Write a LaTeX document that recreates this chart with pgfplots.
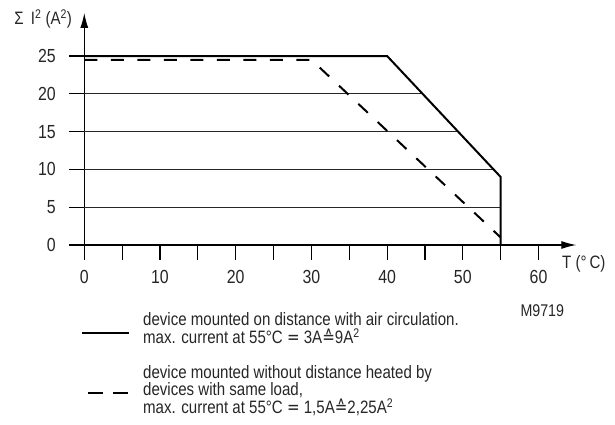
\documentclass[border=0pt]{standalone}
\usepackage{fontspec}
\setmainfont{Liberation Sans}[FakeStretch=0.84]
\newfontfamily\dejavu{DejaVu Sans}[FakeStretch=0.84]
\usepackage{pgfplots}
\pgfplotsset{compat=1.18}
\usetikzlibrary{arrows.meta}
\begin{document}
\begin{tikzpicture}
\begin{axis}[
  at={(0,0)}, anchor=origin,
  scale only axis, width=507.2bp, height=247.2bp,
  xmin=-2, xmax=65, ymin=-2, ymax=30.7,
  axis lines=middle,
  axis line style={line width=1.2bp, -{Latex[length=15bp,width=8bp]}},
  xtick={0,10,...,60}, minor xtick={5,15,...,55},
  ytick={0,5,...,25},
  tick align=outside,
  major tick length=15bp, minor tick length=15bp,
  tick style={line width=1.1bp, black},
  hide obscured x ticks=false, hide obscured y ticks=false,
  clip=false,
  tick label style={font=\fontsize{19}{22}\selectfont, text=black!85},
  xticklabel style={yshift=-7bp},
  yticklabel style={xshift=-10bp},
  /pgf/number format/assume math mode=true,
  xlabel={T (°\,C)},
  ylabel={Σ\, I\textsuperscript{2} (A\textsuperscript{2})},
  xlabel style={at={(axis description cs:0.9716,-0.0157)}, anchor=west, font=\fontsize{18}{21}\selectfont, inner sep=0pt, text=black!85},
  ylabel style={at={(axis description cs:0.006,0.9755)}, anchor=east, rotate=0, font=\fontsize{18}{21}\selectfont, inner sep=0pt, text=black!85},
]
% grid lines (clipped by the solid limit curve)
\addplot[black!85, line width=0.9bp, forget plot] coordinates {(0,5) (55,5)};
\addplot[black!85, line width=0.9bp, forget plot] coordinates {(0,10) (54.0625,10)};
\addplot[black!85, line width=0.9bp, forget plot] coordinates {(0,15) (49.375,15)};
\addplot[black!85, line width=0.9bp, forget plot] coordinates {(0,20) (44.6875,20)};
% solid limit curve
\addplot[black, line width=2bp, line join=miter] coordinates {(0,25) (40,25) (55,9) (55,0)};
% dashed limit curve
\addplot[black, line width=2bp, dash pattern=on 13bp off 13.5bp] coordinates {(0,24.5) (30,24.5) (55,1)};
% legend keys
\addplot[black, line width=2bp, forget plot] coordinates {(-0.3,-11.64) (5.9,-11.64)};
\addplot[black, line width=2bp, dash pattern=on 15bp off 10bp, forget plot] coordinates {(0.5,-19.6) (5.8,-19.6)};
% legend texts
\begin{scope}[every node/.style={anchor=north west, align=left, inner sep=0pt, text=black!85}]
\node[font=\fontsize{18}{18.5}\selectfont] at (axis cs:7.75,-8.86) {device mounted on distance with air circulation.\\
max. current at 55°C {\dejavu =} 3A{\dejavu ≙}9A\textsuperscript{2}};
\node[font=\fontsize{18}{17}\selectfont] at (axis cs:7.75,-15.87) {device mounted without distance heated by\\
devices with same load,\\
max. current at 55°C {\dejavu =} 1,5A{\dejavu ≙}2,25A\textsuperscript{2}};
\end{scope}
\node[anchor=center, inner sep=0pt, font=\fontsize{17}{20}\selectfont, text=black!85] at (axis cs:60.5,-8.7) {M9719};
\end{axis}
\pgfresetboundingbox
\path[use as bounding box] (-84.3bp,-180bp) rectangle (530.7bp,245bp);
\end{tikzpicture}
\end{document}
